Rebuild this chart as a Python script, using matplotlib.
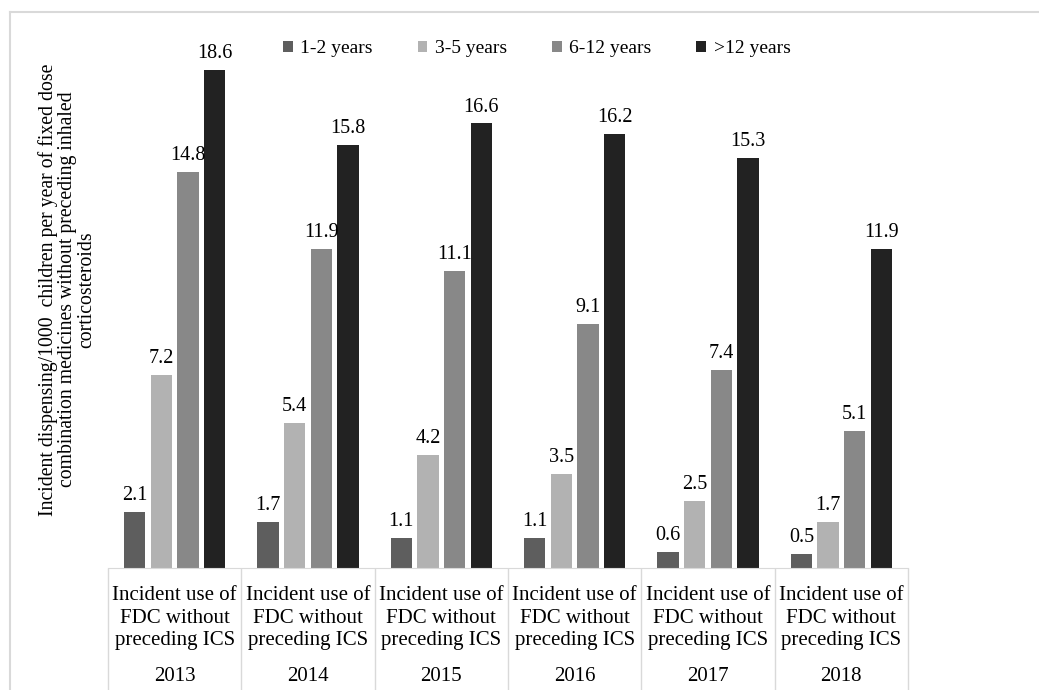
import matplotlib
matplotlib.use("Agg")
import matplotlib.pyplot as plt
from matplotlib.lines import Line2D
import numpy as np

years = ["2013", "2014", "2015", "2016", "2017", "2018"]
category_label = "Incident use of\nFDC without\npreceding ICS"
age_groups = ["1-2 years", "3-5 years", "6-12 years", ">12 years"]
age_1_2 = [2.1, 1.7, 1.1, 1.1, 0.6, 0.5]
age_3_5 = [7.2, 5.4, 4.2, 3.5, 2.5, 1.7]
age_6_12 = [14.8, 11.9, 11.1, 9.1, 7.4, 5.1]
age_over_12 = [18.6, 15.8, 16.6, 16.2, 15.3, 11.9]

colors = ["#5e5e5e", "#b2b2b2", "#888888", "#222222"]
ylabel = ("Incident dispensing/1000  children per year of fixed dose\n"
          "combination medicines without preceding inhaled\n"
          "corticosteroids")

plt.rcParams["font.family"] = ["Liberation Serif", "DejaVu Serif"]

W, H = 1039, 690
fig = plt.figure(figsize=(W / 100, H / 100), dpi=100)
ax_left, ax_right, ax_bottom, ax_top = 108, 908, 567.7, 32.5
ax = fig.add_axes([ax_left / W, 1 - ax_bottom / H,
                   (ax_right - ax_left) / W, (ax_bottom - ax_top) / H])

x = np.arange(len(years))
series = [age_1_2, age_3_5, age_6_12, age_over_12]
offsets = [-0.3, -0.1, 0.1, 0.3]
for values, offset, color, name in zip(series, offsets, colors, age_groups):
    bars = ax.bar(x + offset, values, width=0.158, color=color, label=name)
    ax.bar_label(bars, labels=[f"{v:.1f}" for v in values], padding=5, fontsize=14.5)

ax.set_xlim(-0.5, len(years) - 0.5)
ax.set_ylim(0, 20)
ax.set_yticks([])
ax.set_xticks([])
for side in ["left", "right", "top"]:
    ax.spines[side].set_visible(False)
ax.spines["bottom"].set_color("#d9d9d9")

# multi-level category axis boxes
ax.vlines(np.arange(len(years) + 1) - 0.5, -0.25, 0, color="#d9d9d9", lw=1,
          transform=ax.get_xaxis_transform(), clip_on=False)
for i, year in enumerate(years):
    ax.text(i, -0.094, category_label, transform=ax.get_xaxis_transform(),
            ha="center", va="center", fontsize=15, linespacing=1.22)
    ax.text(i, -0.203, year, transform=ax.get_xaxis_transform(),
            ha="center", va="center", fontsize=15)

ax.text(-0.051, 0.52, ylabel, transform=ax.transAxes, rotation=90,
        ha="center", va="center", fontsize=14.2, linespacing=1.02)

ax.legend(loc="center", bbox_to_anchor=(0.536, 0.97), ncol=4, frameon=False,
          fontsize=14, handlelength=0.5, handleheight=0.5, handletextpad=0.4,
          columnspacing=2.3)

# outer chart border (light gray)
fig.add_artist(Line2D([10 / W, 1], [1 - 12 / H, 1 - 12 / H], color="#d9d9d9", lw=1.5))
fig.add_artist(Line2D([10 / W, 10 / W], [0, 1 - 12 / H], color="#d9d9d9", lw=1.5))

fig.savefig("out.png", dpi=100)
